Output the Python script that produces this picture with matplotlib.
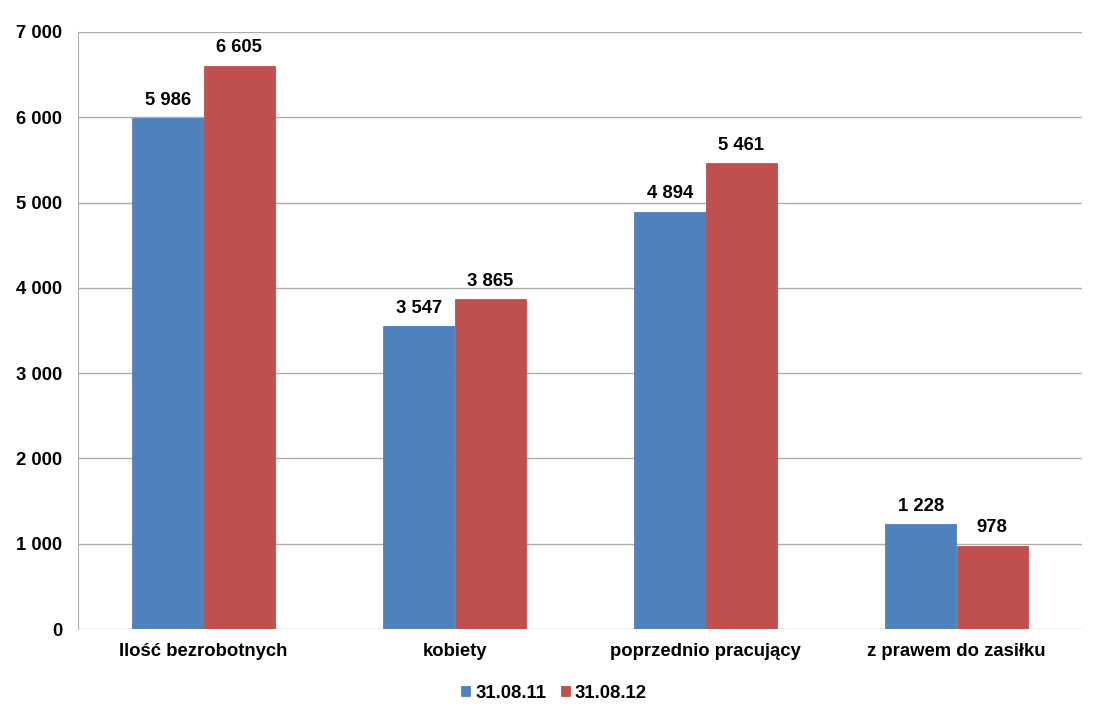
import matplotlib
matplotlib.use("Agg")
import matplotlib.pyplot as plt
import numpy as np

categories = ["Ilość bezrobotnych", "kobiety", "poprzednio pracujący", "z prawem do zasiłku"]
series_names = ["31.08.11", "31.08.12"]
values_2011 = [5986, 3547, 4894, 1228]
values_2012 = [6605, 3865, 5461, 978]
yticks = [0, 1000, 2000, 3000, 4000, 5000, 6000, 7000]

colors = ["#4F81BD", "#C0504D"]
plt.rcParams['font.family'] = ['Liberation Sans', 'DejaVu Sans']
FS = 13.3

def fmt(v):
    return f"{v:,}".replace(",", " ")

fig = plt.figure(figsize=(11, 7.17), dpi=100)
ax = fig.add_axes([78/1100, 1-629/717, (1082-78)/1100, (629-32)/717])

x = np.arange(len(categories))
w = 0.283
b1 = ax.bar(x - w/2, values_2011, w, color=colors[0], edgecolor=colors[0], linewidth=0.6,
            label=series_names[0], zorder=3)
b2 = ax.bar(x + w/2, values_2012, w, color=colors[1], edgecolor=colors[1], linewidth=0.6,
            label=series_names[1], zorder=3)

for bars, vals in ((b1, values_2011), (b2, values_2012)):
    for bar, v in zip(bars, vals):
        ax.annotate(fmt(v), (bar.get_x() + bar.get_width()/2, v), xytext=(0, 7),
                    textcoords="offset points", ha="center", va="bottom",
                    fontsize=FS, fontweight="bold")

ax.set_xlim(-0.5, len(categories) - 0.5)
ax.set_ylim(0, 7000)
ax.set_yticks(yticks)
ax.set_yticklabels([fmt(t) for t in yticks], fontsize=FS, fontweight="bold")
ax.set_xticks(x)
ax.set_xticklabels(categories, fontsize=FS, fontweight="bold")
ax.tick_params(axis="both", length=0)
ax.tick_params(axis="x", pad=10)
ax.tick_params(axis="y", pad=11.5)
ax.grid(axis="y", color="#AEAEAE", linewidth=1, zorder=0)
for s in ["top", "right", "bottom"]:
    ax.spines[s].set_visible(False)
ax.spines["left"].set_color("#AEAEAE")

leg = fig.legend(handles=[b1, b2], labels=series_names, loc="center",
                 bbox_to_anchor=(554/1100, 1-693/717), ncol=2, frameon=False,
                 prop={"size": FS, "weight": "bold"}, handlelength=0.5,
                 handleheight=0.5, handletextpad=0.25, columnspacing=0.8)

fig.savefig("out.png", dpi=100)
